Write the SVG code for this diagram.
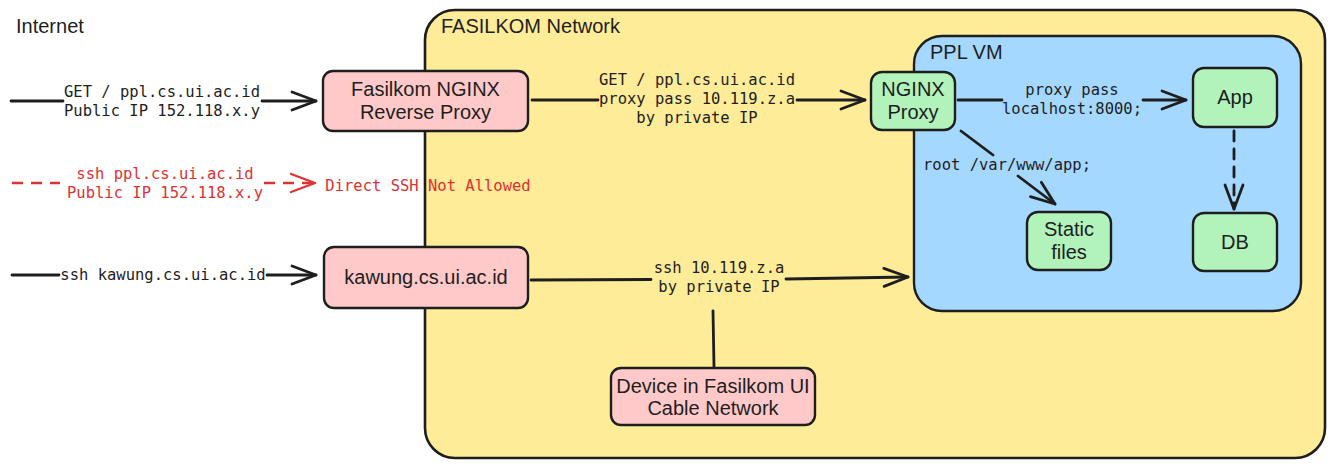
<svg xmlns="http://www.w3.org/2000/svg" width="1333" height="467" viewBox="0 0 1333 467">
<style>
.box{stroke:#1e1e1e;stroke-width:2.4}
.pink{fill:#ffc9c9}
.green{fill:#b2f2bb}
.t{font-family:"Liberation Sans",Arial,sans-serif;font-size:20px;fill:#1e1e1e;text-anchor:middle}
.title{font-family:"Liberation Sans",Arial,sans-serif;fill:#1e1e1e;font-size:20px}
.m{font-family:"DejaVu Sans Mono","Liberation Mono",monospace;font-size:15.5px;fill:#1e1e1e;text-anchor:middle}
.red{fill:#e03131}
.c{fill:none;stroke:#1e1e1e;stroke-width:2.8;stroke-linecap:round}
.cr{fill:none;stroke:#e03131;stroke-width:2.3;stroke-dasharray:11 8}
</style>
<defs>
<marker id="ah" markerUnits="userSpaceOnUse" markerWidth="40" markerHeight="30" viewBox="-30 -15 40 30" refX="0" refY="0" orient="auto">
<path d="M-24,-9 L0,0 L-24,9" fill="none" stroke="#1e1e1e" stroke-width="2.8" stroke-linecap="round" stroke-linejoin="round"/>
</marker>
<marker id="ahr" markerUnits="userSpaceOnUse" markerWidth="40" markerHeight="30" viewBox="-30 -15 40 30" refX="0" refY="0" orient="auto">
<path d="M-24,-9 L0,0 L-24,9" fill="none" stroke="#e03131" stroke-width="2.3" stroke-linecap="round" stroke-linejoin="round"/>
</marker>
</defs>
<rect width="1333" height="467" fill="#ffffff"/>
<text class="title" x="16" y="33">Internet</text>

<g id="fasilkom-network">
<rect x="425" y="10" width="900" height="448" rx="30" fill="#ffec99" stroke="#1e1e1e" stroke-width="2.6"/>
<text class="title" x="441" y="33">FASILKOM Network</text>
</g>
<g id="ppl-vm">
<rect x="914" y="36" width="387" height="275" rx="28" fill="#a5d8ff" stroke="#1e1e1e" stroke-width="2.4"/>
<text class="title" x="930" y="59">PPL VM</text>
</g>

<g id="connectors">
<path class="c" d="M11,101 H63 M262,101 H316" marker-end="url(#ah)"/>
<text class="m" x="162" y="97">GET / ppl.cs.ui.ac.id</text>
<text class="m" x="162" y="116">Public IP 152.118.x.y</text>

<path class="cr" d="M12,183 H60 M264,183 H315" marker-end="url(#ahr)"/>
<text class="m red" x="165" y="179">ssh ppl.cs.ui.ac.id</text>
<text class="m red" x="165" y="198">Public IP 152.118.x.y</text>
<text class="m red" x="428" y="191">Direct SSH Not Allowed</text>

<path class="c" d="M12,275 H59 M267,275 H316" marker-end="url(#ah)"/>
<text class="m" x="163" y="280">ssh kawung.cs.ui.ac.id</text>

<path class="c" d="M532,100 H598 M797,100 H865" marker-end="url(#ah)"/>
<text class="m" x="697" y="85">GET / ppl.cs.ui.ac.id</text>
<text class="m" x="697" y="104">proxy pass 10.119.z.a</text>
<text class="m" x="697" y="123">by private IP</text>

<path class="c" d="M531,280 L651,279.5 M786,279 L908,277" marker-end="url(#ah)"/>
<text class="m" x="719" y="273">ssh 10.119.z.a</text>
<text class="m" x="719" y="292">by private IP</text>

<path class="c" d="M713,311 L714,367"/>

<path class="c" d="M958,100 H1002 M1143,100 H1186" marker-end="url(#ah)"/>
<text class="m" x="1072" y="95">proxy pass</text>
<text class="m" x="1072" y="114">localhost:8000;</text>

<path class="c" d="M961,131 L993,155 M1018,176 L1055,204" marker-end="url(#ah)"/>
<text class="m" x="1007" y="170">root /var/www/app;</text>

<path class="c" d="M1234,131 V209" stroke-dasharray="10 8" marker-end="url(#ah)"/>
</g>

<g id="fasilkom-nginx">
<rect class="box pink" x="323" y="71" width="205" height="60" rx="10"/>
<text class="t" x="425.5" y="96">Fasilkom NGINX</text>
<text class="t" x="425.5" y="119">Reverse Proxy</text>
</g>
<g id="kawung">
<rect class="box pink" x="324" y="247" width="204" height="61" rx="10"/>
<text class="t" x="426" y="284">kawung.cs.ui.ac.id</text>
</g>
<g id="device">
<rect class="box pink" x="611" y="368" width="204" height="57" rx="10"/>
<text class="t" x="713" y="393" font-size="19">Device in Fasilkom UI</text>
<text class="t" x="713" y="415" font-size="19">Cable Network</text>
</g>
<g id="nginx-proxy">
<rect class="box green" x="871" y="72" width="84" height="58" rx="11"/>
<text class="t" x="913" y="96">NGINX</text>
<text class="t" x="913" y="119">Proxy</text>
</g>
<g id="app">
<rect class="box green" x="1193" y="68" width="84" height="59" rx="11"/>
<text class="t" x="1235" y="104">App</text>
</g>
<g id="static-files">
<rect class="box green" x="1027" y="212" width="84" height="58" rx="11"/>
<text class="t" x="1069" y="236">Static</text>
<text class="t" x="1069" y="259">files</text>
</g>
<g id="db">
<rect class="box green" x="1193" y="213" width="84" height="58" rx="11"/>
<text class="t" x="1235" y="249">DB</text>
</g>
</svg>
